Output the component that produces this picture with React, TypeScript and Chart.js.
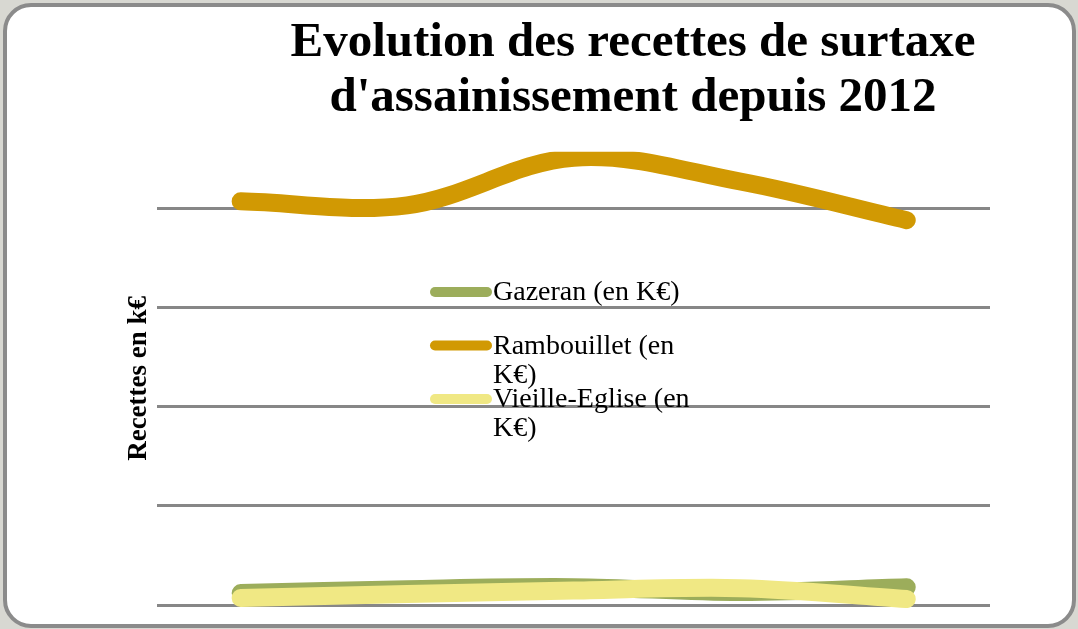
import React, { useEffect, useRef } from "react";
import { Chart, registerables } from "chart.js";

Chart.register(...registerables);

const categories = ["2012", "2013", "2014", "2015", "2016"];
const gazeran = [120, 160, 180, 130, 178];
const rambouillet = [4070, 4030, 4510, 4270, 3880];
const vieilleEglise = [70, 110, 145, 170, 60];
const seriesLabels = ["Gazeran (en K€)", "Rambouillet (en K€)", "Vieille-Eglise (en K€)"];
const gridValues = [0, 1000, 2000, 3000, 4000];
const titleLines = ["Evolution des recettes de surtaxe", "d'assainissement depuis 2012"];
const yAxisTitle = "Recettes en k€";

const SERIF = "'Liberation Serif', 'Times New Roman', serif";

const titleShift = {
  id: "titleShift",
  afterLayout(chart: any, _a: any, opts: any) {
    const tb = chart.titleBlock;
    if (!tb) return;
    const c = opts.center;
    const half = Math.min(c, chart.width - c);
    tb.left = c - half;
    tb.right = c + half;
  },
};

const innerLegend = {
  id: "innerLegend",
  afterDraw(chart: any, _a: any, opts: any) {
    const ctx = chart.ctx as CanvasRenderingContext2D;
    ctx.save();
    ctx.font = `${opts.fontSize}px ${SERIF}`;
    chart.data.datasets.forEach((ds: any, i: number) => {
      const y = opts.y + i * opts.spacing;
      ctx.strokeStyle = ds.borderColor;
      ctx.lineWidth = opts.symbolWidth;
      ctx.lineCap = "round";
      ctx.beginPath();
      ctx.moveTo(opts.x + opts.symbolWidth / 2, y);
      ctx.lineTo(opts.x + opts.symbolLength - opts.symbolWidth / 2, y);
      ctx.stroke();
      const words = String(ds.label).split(" ");
      const lines: string[] = [];
      let cur = "";
      words.forEach((w) => {
        const test = cur ? cur + " " + w : w;
        if (cur && ctx.measureText(test).width > opts.maxTextWidth) {
          lines.push(cur);
          cur = w;
        } else cur = test;
      });
      if (cur) lines.push(cur);
      ctx.fillStyle = "#000";
      ctx.textAlign = "left";
      ctx.textBaseline = "alphabetic";
      lines.forEach((ln, k) => {
        ctx.fillText(ln, opts.x + opts.symbolLength + 1, y + opts.baselineOffset + k * opts.lineHeight);
      });
    });
    ctx.restore();
  },
};

export default function App() {
  const ref = useRef<HTMLCanvasElement | null>(null);

  useEffect(() => {
    if (!ref.current) return;
    const common = {
      borderWidth: 18,
      tension: 0.35,
      pointRadius: 0,
      pointHoverRadius: 0,
      borderCapStyle: "round" as const,
      borderJoinStyle: "round" as const,
      fill: false,
      clip: { left: false, right: false, top: 0, bottom: 3 } as any,
    };
    const chart = new Chart(ref.current, {
      type: "line",
      data: {
        labels: categories,
        datasets: [
          { ...common, label: seriesLabels[0], data: gazeran, borderColor: "#9CAD5B", backgroundColor: "#9CAD5B", order: 2 },
          { ...common, label: seriesLabels[1], data: rambouillet, borderColor: "#D19903", backgroundColor: "#D19903", order: 1 },
          { ...common, label: seriesLabels[2], data: vieilleEglise, borderColor: "#F0E884", backgroundColor: "#F0E884", order: 0 },
        ],
      },
      options: {
        responsive: false,
        animation: false,
        layout: { padding: { left: 123, right: 88, top: 0, bottom: 24 } },
        plugins: {
          legend: { display: false },
          tooltip: { enabled: false },
          title: {
            display: true,
            text: titleLines,
            color: "#000",
            font: { family: SERIF, size: 49, weight: "bold", lineHeight: 1.12 },
            padding: { top: 16, bottom: 26 },
          },
          titleShift: { center: 633 },
          innerLegend: {
            x: 430,
            y: 292,
            spacing: 53.5,
            symbolLength: 62,
            symbolWidth: 10,
            fontSize: 28,
            lineHeight: 29,
            baselineOffset: 8,
            maxTextWidth: 205,
          },
        } as any,
        scales: {
          x: { type: "category", display: false, offset: true },
          y: {
            min: 0,
            max: 4570,
            border: { display: false },
            grid: { color: "#878787", lineWidth: 3, drawTicks: false },
            ticks: { display: false },
            afterBuildTicks: (axis: any) => {
              axis.ticks = gridValues.map((v) => ({ value: v }));
            },
            title: {
              display: true,
              text: yAxisTitle,
              color: "#000",
              font: { family: SERIF, size: 27, weight: "bold", lineHeight: 1.2 },
              padding: { top: 0, bottom: 2 },
            },
          },
        },
      },
      plugins: [titleShift, innerLegend],
    });
    return () => chart.destroy();
  }, []);

  return (
    <div style={{ position: "fixed", left: 0, top: 0, width: 1078, height: 629, background: "#d8d8d2" }}>
      <div
        style={{
          position: "absolute",
          left: 3,
          top: 3,
          width: 1073,
          height: 625,
          boxSizing: "border-box",
          border: "4px solid #8b8b8b",
          borderRadius: 28,
          background: "#fff",
        }}
      />
      <canvas ref={ref} width={1078} height={629} style={{ position: "absolute", left: 0, top: 0 }} />
    </div>
  );
}
